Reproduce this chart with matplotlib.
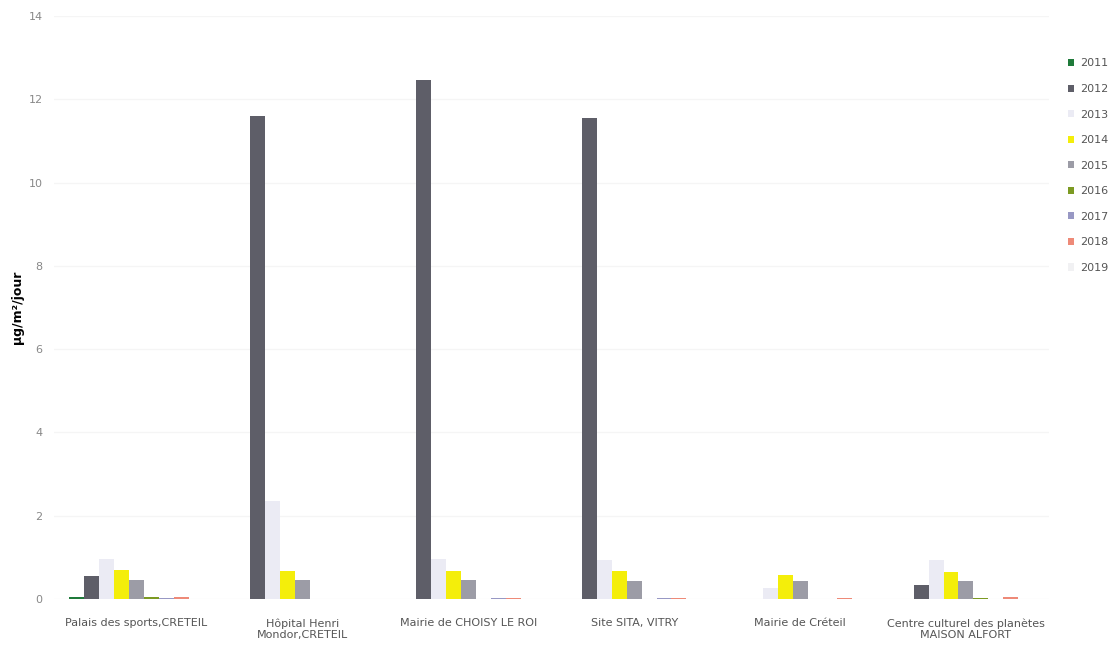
import numpy as np
import matplotlib.pyplot as plt

sites = [
    'Palais des sports,CRETEIL',
    'Hôpital Henri\nMondor,CRETEIL',
    'Mairie de CHOISY LE ROI',
    'Site SITA, VITRY',
    'Mairie de Créteil',
    'Centre culturel des planètes\nMAISON ALFORT',
]
years = ['2011', '2012', '2013', '2014', '2015', '2016', '2017', '2018', '2019']

v2011 = [0.05, 0.0, 0.0, 0.0, 0.0, 0.0]
v2012 = [0.55, 11.6, 12.46, 11.55, 0.0, 0.33]
v2013 = [0.95, 2.36, 0.95, 0.93, 0.27, 0.93]
v2014 = [0.70, 0.66, 0.68, 0.66, 0.58, 0.64]
v2015 = [0.46, 0.45, 0.45, 0.44, 0.43, 0.43]
v2016 = [0.04, 0.0, 0.0, 0.0, 0.0, 0.03]
v2017 = [0.02, 0.0, 0.02, 0.02, 0.0, 0.0]
v2018 = [0.05, 0.0, 0.03, 0.03, 0.02, 0.05]
v2019 = [0.0, 0.0, 0.0, 0.0, 0.0, 0.0]

series = [v2011, v2012, v2013, v2014, v2015, v2016, v2017, v2018, v2019]
colors = ['#1f7a3a', '#5e5e68', '#ebebf4', '#f4ee0a', '#9c9ca6',
          '#7c9a22', '#9898c4', '#ee8a78', '#f1f1f3']

fig = plt.figure(figsize=(11.17, 6.46), dpi=100)
ax = fig.add_axes([0.048, 0.073, 0.891, 0.902])

x = np.arange(len(sites))
w = 0.09
for i, (vals, c) in enumerate(zip(series, colors)):
    ax.bar(x + (i - 4) * w, vals, width=w, color=c, label=years[i], zorder=2)

ax.set_ylim(0, 14)
ax.set_xlim(-0.5, len(sites) - 0.5)
ax.set_yticks(range(0, 15, 2))
ax.yaxis.grid(True, color='#f5f5f5', linewidth=1, zorder=0)
ax.set_xticks(x)
ax.set_xticklabels(sites, fontsize=8, color='#555555')
ax.tick_params(axis='y', labelsize=8, colors='#888888', length=0, pad=8)
ax.tick_params(axis='x', length=0, pad=14)
for s in ax.spines.values():
    s.set_visible(False)

ax.set_ylabel('µg/m²/jour', fontsize=9, fontweight='bold', labelpad=3)

ax.legend(loc='upper left', bbox_to_anchor=(0.947, 0.925),
          bbox_transform=fig.transFigure, frameon=False, fontsize=8,
          handlelength=0.6, handleheight=0.6, labelspacing=1.4,
          handletextpad=0.5, labelcolor='#555555')

fig.savefig('out.png', dpi=100)
